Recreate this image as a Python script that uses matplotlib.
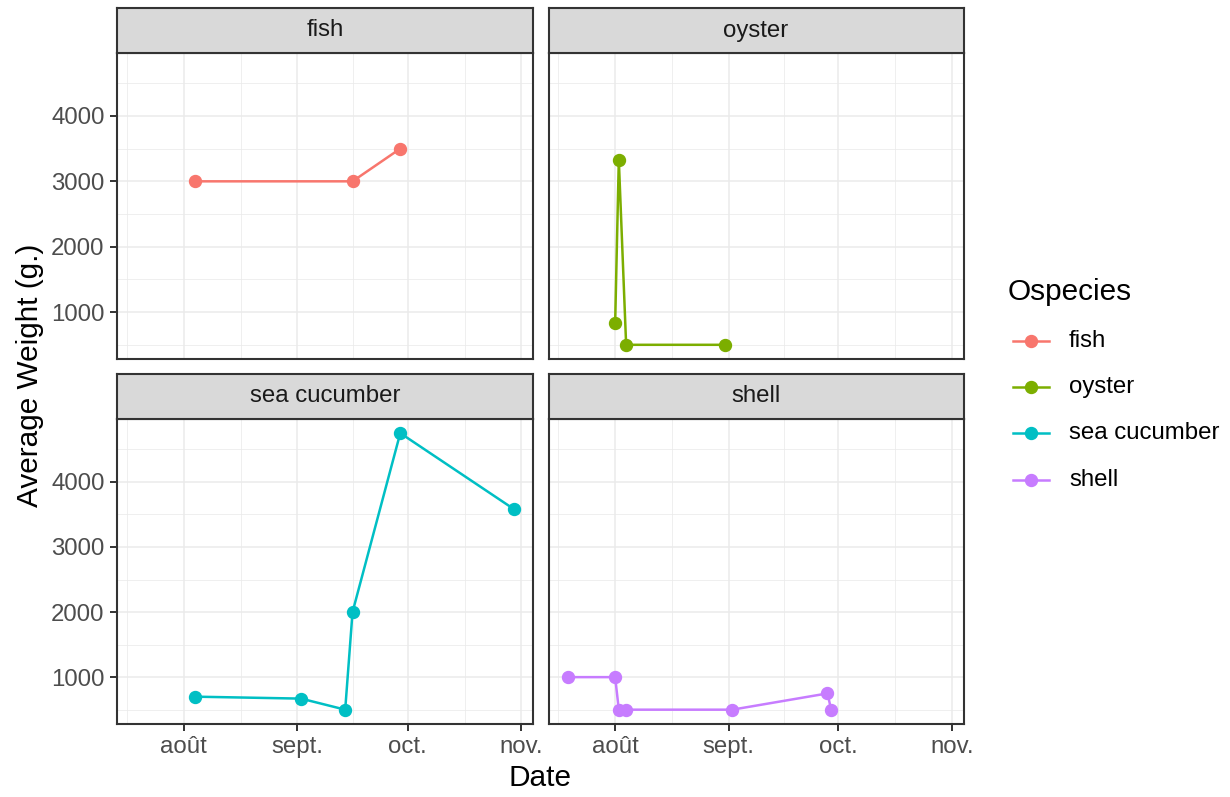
import numpy as np
import pandas as pd
import matplotlib.pyplot as plt
import matplotlib.dates as mdates
from matplotlib.lines import Line2D

plt.rcParams['font.family'] = ['Liberation Sans', 'DejaVu Sans']

# 数据
species = ['fish', 'oyster', 'sea cucumber', 'shell']
colors = ['#F8766D', '#7CAE00', '#00BFC4', '#C77CFF']

fish_dates = ['2021-08-04', '2021-09-16', '2021-09-29']
fish_weight = [3000, 3000, 3500]

oyster_dates = ['2021-08-01', '2021-08-02', '2021-08-04', '2021-08-31']
oyster_weight = [830, 3330, 500, 500]

cucumber_dates = ['2021-08-04', '2021-09-02', '2021-09-14', '2021-09-16',
                  '2021-09-29', '2021-10-30']
cucumber_weight = [700, 670, 500, 2000, 4750, 3580]

shell_dates = ['2021-07-19', '2021-08-01', '2021-08-02', '2021-08-04',
               '2021-09-02', '2021-09-28', '2021-09-29']
shell_weight = [1000, 1000, 500, 500, 500, 750, 500]

month_ticks = ['2021-08-01', '2021-09-01', '2021-10-01', '2021-11-01']
month_labels = ['août', 'sept.', 'oct.', 'nov.']
minor_ticks = ['2021-07-16 12:00', '2021-08-16 12:00', '2021-09-16 00:00',
               '2021-10-16 12:00']
y_ticks = [1000, 2000, 3000, 4000]
y_minor = [500, 1500, 2500, 3500, 4500]

data = {
    'fish': (fish_dates, fish_weight),
    'oyster': (oyster_dates, oyster_weight),
    'sea cucumber': (cucumber_dates, cucumber_weight),
    'shell': (shell_dates, shell_weight),
}

W, H = 1230, 797
fig = plt.figure(figsize=(W / 100, H / 100), dpi=100)


def box(x0, y0, x1, y1):
    # 像素坐标 -> figure 坐标
    return [x0 / W, 1 - y1 / H, (x1 - x0) / W, (y1 - y0) / H]


cols = [(117, 533), (548.7, 963.5)]
rows = [(8, 53, 358.7), (373.7, 419.3, 723.5)]

# 坐标范围（ggplot 默认扩展 5%）
all_x = np.concatenate([mdates.date2num(pd.to_datetime(d)) for d, _ in data.values()])
all_y = np.concatenate([np.array(w, dtype=float) for _, w in data.values()])
xr = all_x.max() - all_x.min()
yr = all_y.max() - all_y.min()
xlim = (all_x.min() - 0.05 * xr, all_x.max() + 0.05 * xr)
ylim = (all_y.min() - 0.05 * yr, all_y.max() + 0.05 * yr)

major_x = mdates.date2num(pd.to_datetime(month_ticks))
minor_x = mdates.date2num(pd.to_datetime(minor_ticks))

border = '#333333'
lines = []
for i, sp in enumerate(species):
    r, c = divmod(i, 2)
    x0, x1 = cols[c]
    s0, p0, p1 = rows[r]
    ax = fig.add_axes(box(x0, p0, x1, p1))
    dts, wts = data[sp]
    xs = mdates.date2num(pd.to_datetime(dts))
    ln, = ax.plot(xs, wts, '-o', color=colors[i], lw=1.8, ms=8.6, zorder=3,
                  clip_on=False)
    lines.append(ln)
    ax.set_xlim(xlim)
    ax.set_ylim(ylim)
    for v in major_x:
        ax.axvline(v, color='#EBEBEB', lw=1.1, zorder=1)
    for v in minor_x:
        ax.axvline(v, color='#EBEBEB', lw=0.55, zorder=1)
    for v in y_ticks:
        ax.axhline(v, color='#EBEBEB', lw=1.1, zorder=1)
    for v in y_minor:
        ax.axhline(v, color='#EBEBEB', lw=0.55, zorder=1)
    for s in ax.spines.values():
        s.set_color(border)
        s.set_linewidth(1.5)
        s.set_zorder(4)
    ax.set_xticks(major_x)
    ax.set_yticks(y_ticks)
    ax.tick_params(axis='both', length=5, width=1.4, color=border,
                   labelcolor='#4D4D4D', labelsize=17.3, pad=4)
    if r == 1:
        ax.set_xticklabels(month_labels)
    else:
        ax.tick_params(axis='x', length=0, labelbottom=False)
    if c == 0:
        ax.set_yticklabels([str(v) for v in y_ticks])
    else:
        ax.tick_params(axis='y', length=0, labelleft=False)

    # 分面标题
    st = fig.add_axes(box(x0, s0, x1, p0))
    st.set_facecolor('#D9D9D9')
    st.set_xticks([])
    st.set_yticks([])
    for s in st.spines.values():
        s.set_color(border)
        s.set_linewidth(1.5)
    st.text(0.5, 0.5, sp, ha='center', va='center', fontsize=17.3,
            color='#1A1A1A', transform=st.transAxes)

fig.text(540 / W, 1 - 778.5 / H, 'Date', ha='center', va='center', fontsize=21.4)
fig.text(30 / W, 1 - 375 / H, 'Average Weight (g.)', ha='center', va='center',
         rotation=90, fontsize=21.4)

# 图例
fig.text(1008 / W, 1 - 291.5 / H, 'Ospecies', ha='left', va='center', fontsize=21.4)
key_y = [341, 386.7, 433.3, 480]
for i, sp in enumerate(species):
    yk = 1 - key_y[i] / H
    fig.add_artist(Line2D([1013 / W, 1049 / W], [yk, yk], color=colors[i], lw=1.8,
                          transform=fig.transFigure))
    fig.add_artist(Line2D([1031 / W], [yk], marker='o', ms=8.6, color=colors[i],
                          transform=fig.transFigure))
    fig.text(1069 / W, yk, sp, ha='left', va='center', fontsize=17.3)

fig.savefig('out.png', dpi=100)
